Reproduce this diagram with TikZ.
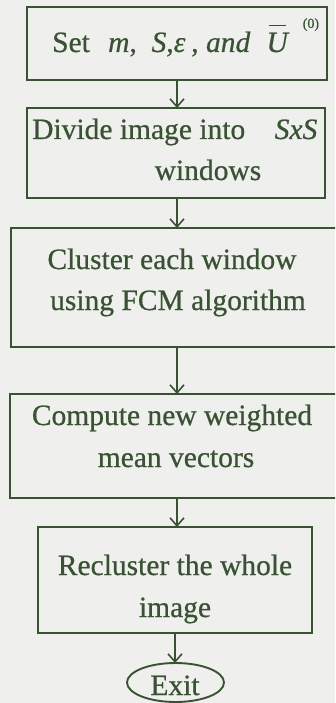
\documentclass[tikz,border=0pt]{standalone}
\usepackage{fontspec}
\setmainfont{Liberation Serif}[FakeBold=0.6]
\usetikzlibrary{arrows.meta}
\definecolor{ink}{HTML}{3A5234}
\definecolor{paper}{HTML}{EFEFED}
\tikzset{
  stepbox/.style={draw=ink, line width=1.9pt},
  label/.style={inner sep=0pt, anchor=base, text=ink, font=\fontsize{29.5}{33}\selectfont},
  flow/.style={draw=ink, line width=1.6pt, -{Straight Barb[length=8pt,width=14pt,line width=1.6pt]}},
}
\begin{document}
\begin{tikzpicture}[x=1pt,y=-1pt]
  % page frame and background
  \useasboundingbox (0,0) rectangle (335,703);
  \clip (0,0) rectangle (335,703);
  \fill[paper] (0,0) rectangle (335,703);

  % process boxes
  \draw[stepbox] (27,7) rectangle (327,80);
  \draw[stepbox] (27,108) rectangle (325,198);
  \draw[stepbox] (11,228) rectangle (350,347);
  \draw[stepbox] (10,394) rectangle (350,498);
  \draw[stepbox] (38,527) rectangle (312,633);
  \draw[stepbox] (175.5,682.5) ellipse [x radius=48.5, y radius=19.5];

  % connector anchor points on box edges
  \coordinate (b1) at (177,80);   \coordinate (t2) at (177,108);
  \coordinate (b2) at (177,198);  \coordinate (t3) at (177,228);
  \coordinate (b3) at (177,347);  \coordinate (t4) at (177,394);
  \coordinate (b4) at (177,498);  \coordinate (t5) at (177,527);
  \coordinate (b5) at (175,633);  \coordinate (t6) at (175,663);

  \draw[flow] (b1) -- (t2);
  \draw[flow] (b2) -- (t3);
  \draw[flow] (b3) -- (t4);
  \draw[flow] (b4) -- (t5);
  \draw[flow] (b5) -- (t6);

  % box texts
  \node[label, anchor=base west] (s1) at (52,52)
    {Set\hspace{0.62em}\textit{m},\hspace{0.5em}\textit{S},\textit{ε}\hspace{0.2em}, \textit{and}\hspace{0.55em}\rlap{\hspace{2pt}\rule[26pt]{17pt}{1.3pt}}\textit{U}\hspace{0.45em}\raisebox{24pt}{\fontsize{14}{14}\selectfont (0)}};
  \node[label, anchor=base west] (s2a) at (32,139) {Divide image into\hspace{1em}\textit{SxS}};
  \node[label] (s2b) at (208,180) {windows};
  \node[label] (s3a) at (172,269) {Cluster each window};
  \node[label] (s3b) at (178,310) {using FCM algorithm};
  \node[label] (s4a) at (172,425) {Compute new weighted};
  \node[label] (s4b) at (176,467) {mean vectors};
  \node[label] (s5a) at (175,575) {Recluster the whole};
  \node[label] (s5b) at (175,617) {image};
  \node[label] (ex) at (175,695) {Exit};
\end{tikzpicture}
\end{document}
